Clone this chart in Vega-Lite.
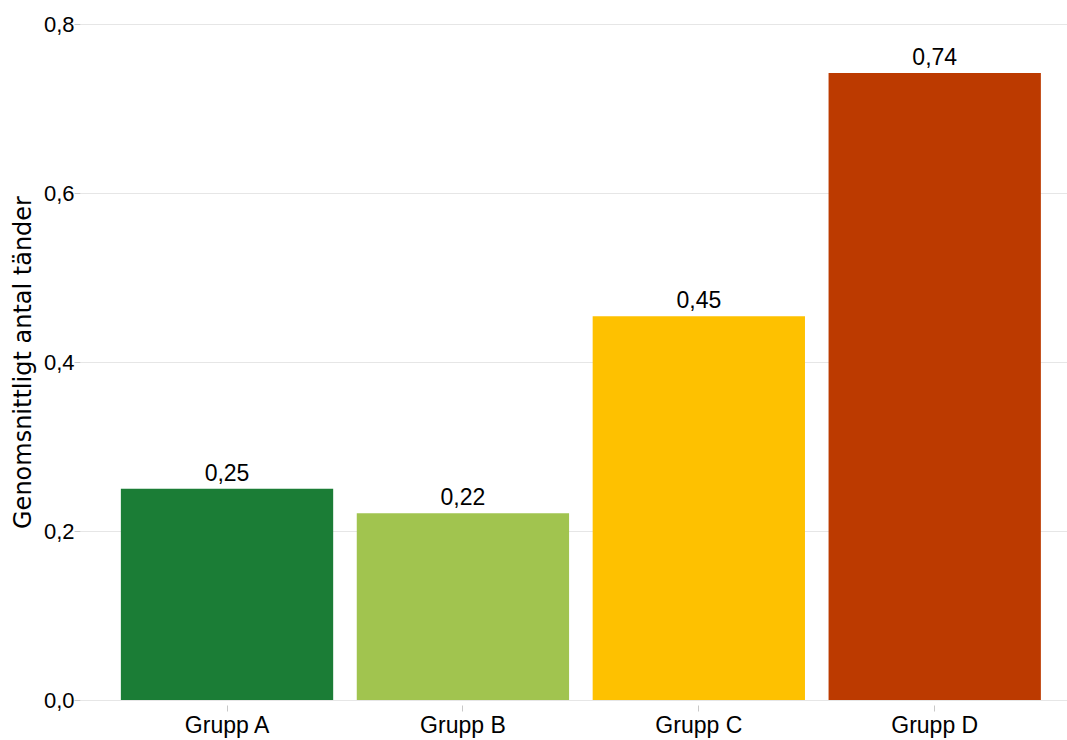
{
  "$schema": "https://vega.github.io/schema/vega-lite/v6.json",
  "autosize": {"type": "none"},
  "width": 987,
  "height": 676,
  "padding": {"left": 80, "top": 24, "right": 0, "bottom": 40},
  "background": "white",
  "config": {
    "view": {"stroke": null},
    "font": "Liberation Sans",
    "locale": {"number": {"decimal": ",", "thousands": " ", "grouping": [3], "currency": ["", " kr"]}}
  },
  "data": {
    "values": [
      {"grupp": "Grupp A", "varde": 0.25, "farg": "#1b7d36"},
      {"grupp": "Grupp B", "varde": 0.221, "farg": "#a1c44f"},
      {"grupp": "Grupp C", "varde": 0.454, "farg": "#fec100"},
      {"grupp": "Grupp D", "varde": 0.742, "farg": "#bc3a00"}
    ]
  },
  "encoding": {
    "x": {
      "field": "grupp",
      "type": "nominal",
      "sort": null,
      "scale": {"paddingInner": 0.1, "paddingOuter": 0.142, "align": 0.61},
      "axis": {
        "title": null,
        "labelAngle": 0,
        "labelFontSize": 23,
        "labelColor": "black",
        "labelPadding": 3,
        "domain": false,
        "grid": false,
        "tickSize": 6,
        "tickColor": "#c8c8c8",
        "offset": 5
      }
    },
    "y": {
      "field": "varde",
      "type": "quantitative",
      "scale": {"domain": [0, 0.8], "nice": false},
      "axis": {
        "title": "Genomsnittligt antal tänder",
        "titleFont": "DejaVu Sans",
        "titleFontSize": 24,
        "titleFontWeight": "normal",
        "titleColor": "black",
        "titlePadding": 8,
        "values": [0, 0.2, 0.4, 0.6, 0.8],
        "format": ".1f",
        "labelFontSize": 22,
        "labelColor": "black",
        "labelPadding": 0,
        "domain": false,
        "grid": true,
        "gridColor": "#e6e6e6",
        "gridWidth": 1,
        "tickSize": 6,
        "tickColor": "#c8c8c8"
      }
    }
  },
  "layer": [
    {
      "mark": {"type": "bar"},
      "encoding": {
        "color": {"field": "farg", "type": "nominal", "scale": null, "legend": null}
      }
    },
    {
      "mark": {"type": "text", "baseline": "alphabetic", "dy": -8, "fontSize": 23, "color": "black"},
      "encoding": {
        "text": {"field": "varde", "type": "quantitative", "format": ".2f"}
      }
    }
  ]
}
